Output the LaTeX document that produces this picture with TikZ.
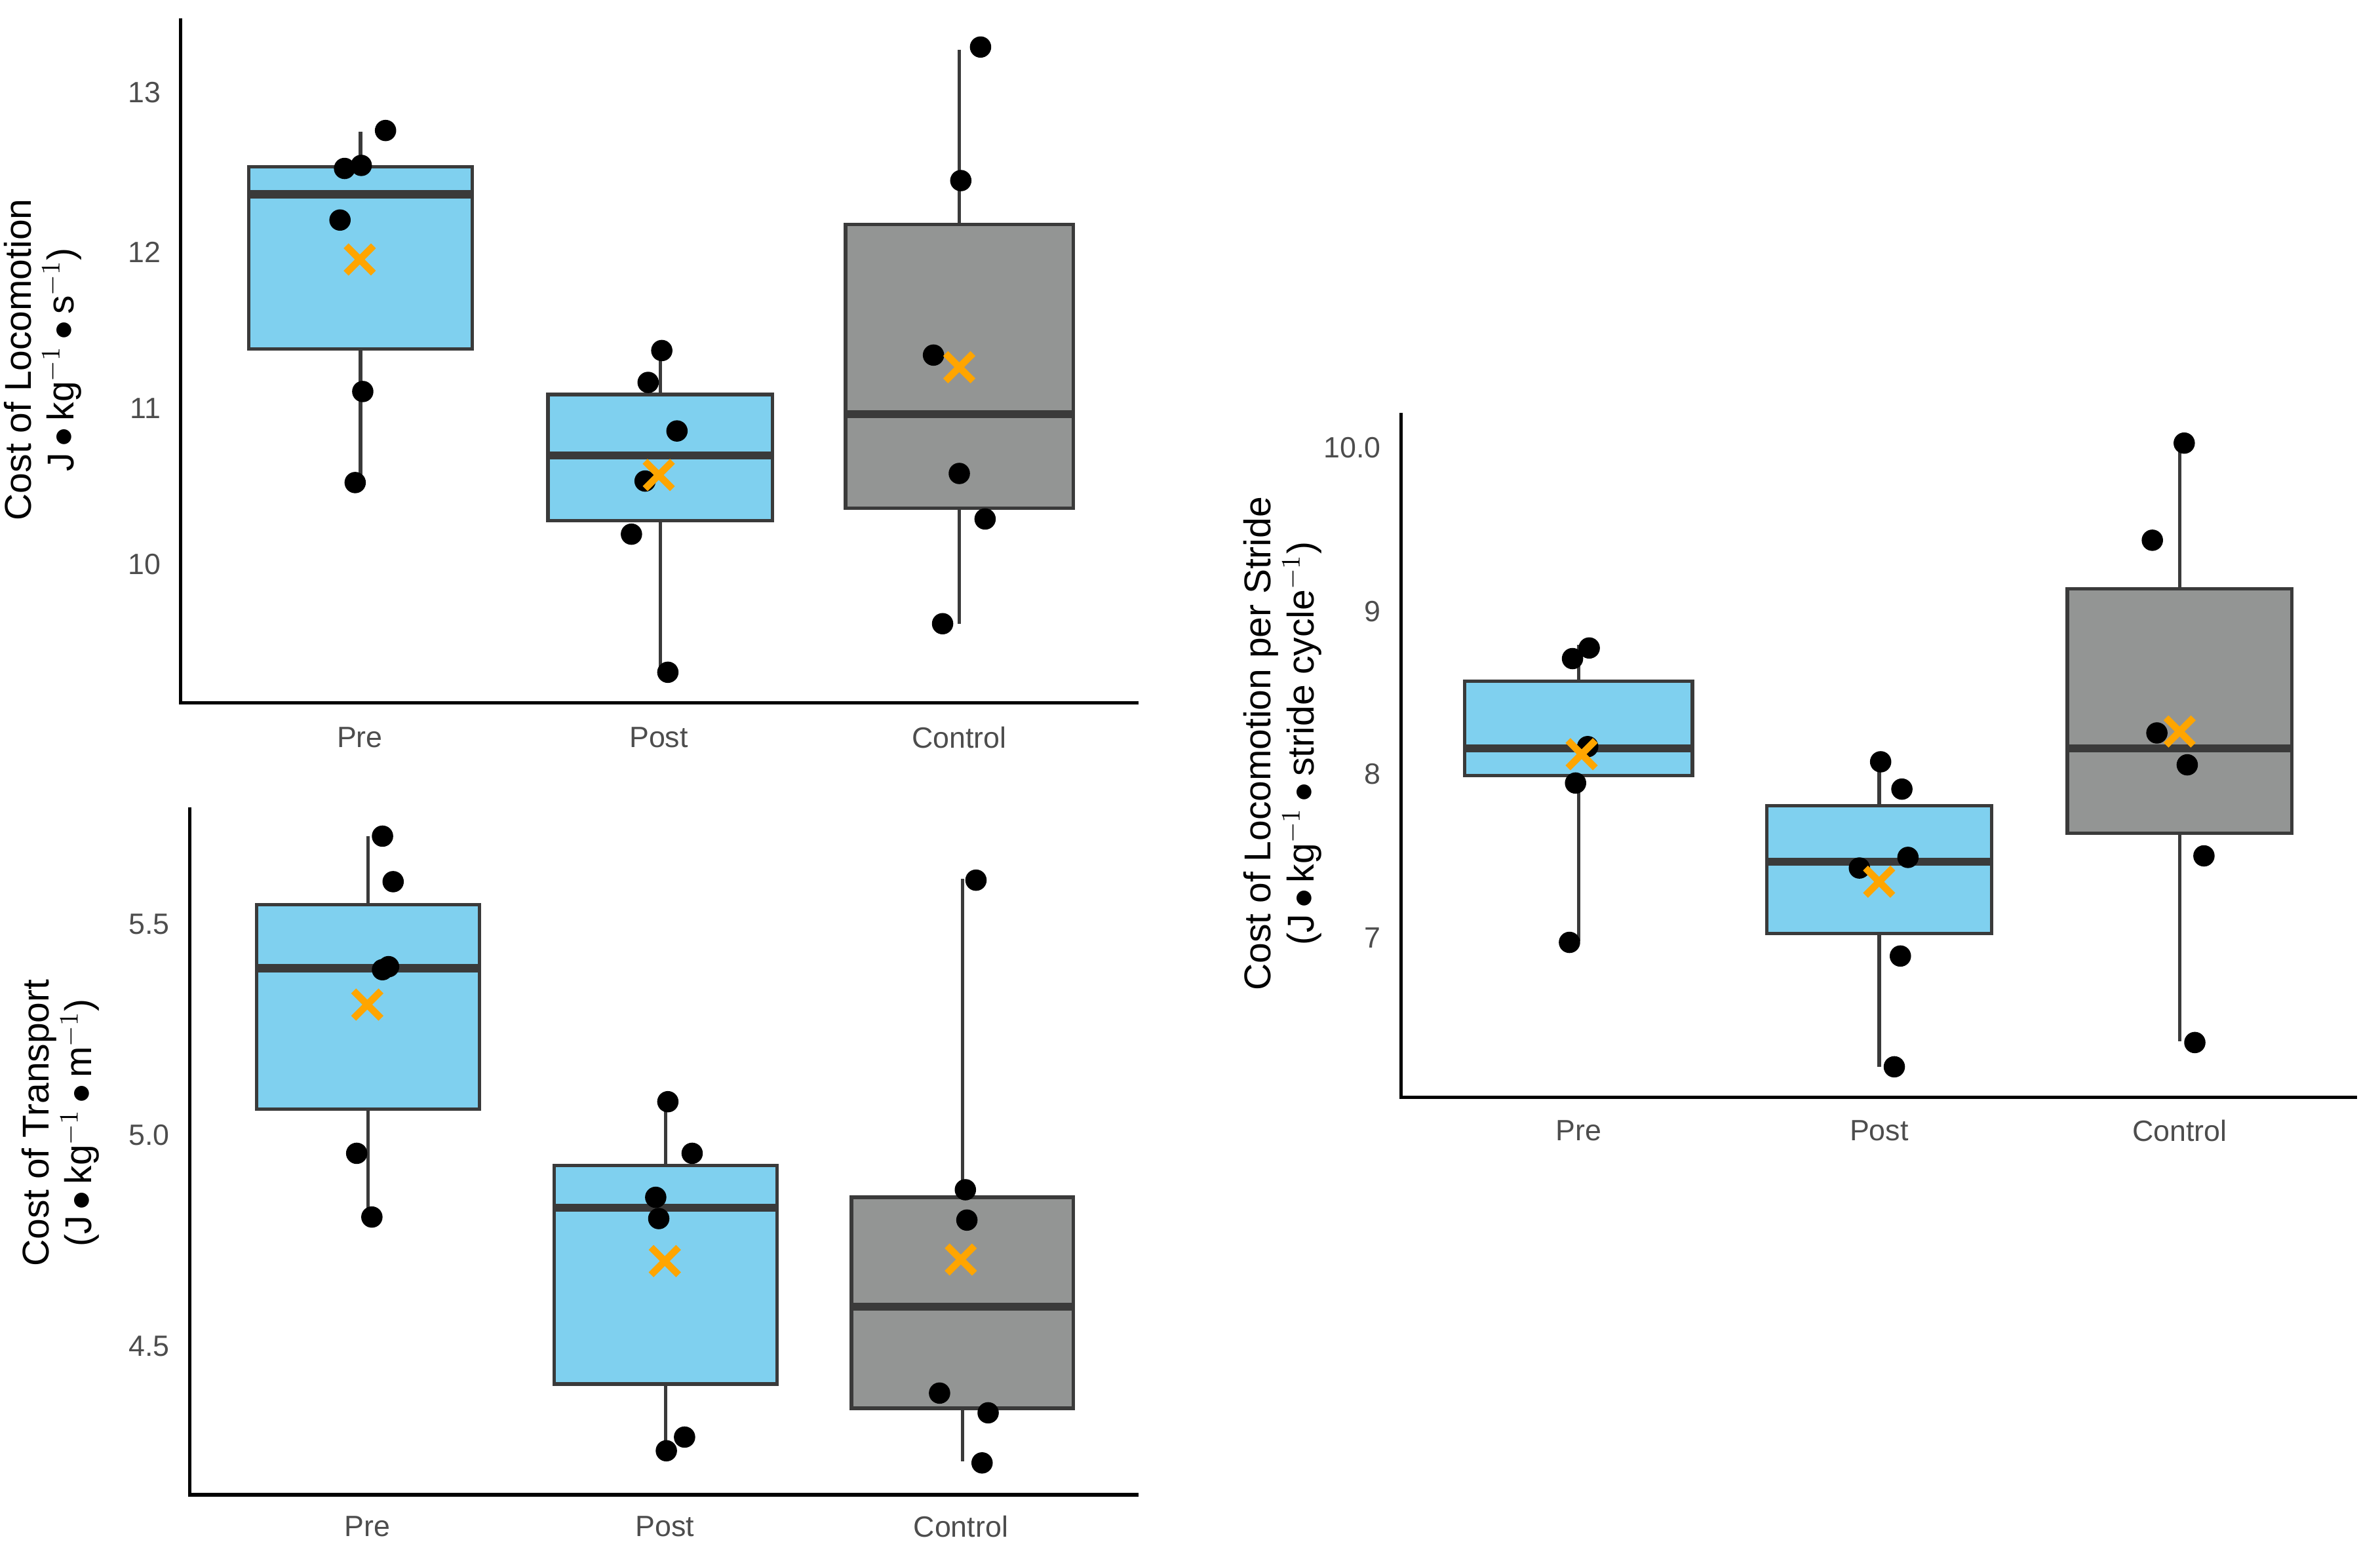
\documentclass[tikz,border=0pt]{standalone}
\usepackage{fontspec}
\setmainfont{Liberation Sans}
\definecolor{boxblue}{HTML}{7FD0EF}
\definecolor{boxgray}{HTML}{939594}
\definecolor{edgegray}{HTML}{3A3A3A}
\definecolor{meanorange}{HTML}{FFA500}
\definecolor{ticktext}{HTML}{4D4D4D}
\tikzset{
  box/.style={draw=edgegray, line width=1.3pt},
  whisker/.style={draw=edgegray, line width=1.3pt},
  median/.style={draw=edgegray, line width=3pt},
  axis/.style={draw=black, line width=1.3pt},
  pt/.style={fill=black, circle, inner sep=0pt, minimum size=8pt},
  ticklab/.style={font=\fontsize{11}{13}\selectfont, text=ticktext},
  ylab/.style={font=\fontsize{14}{16}\selectfont, rotate=90, align=center}
}
\newcommand{\bxp}[8]{%
  \draw[whisker] ({(#1+#2)/2},#6) -- ({(#1+#2)/2},#7);
  \filldraw[box, fill=#8] (#1,#3) rectangle (#2,#4);
  \draw[median] (#1,#5) -- (#2,#5);
}
\newcommand{\meanx}[2]{%
  \draw[meanorange, line width=2.6pt] (#1-9,#2-9) -- (#1+9,#2+9) (#1-9,#2+9) -- (#1+9,#2-9);
}
\begin{document}
\begin{tikzpicture}[x=0.02cm, y=-0.02cm]
\useasboundingbox (0,0) rectangle (1568,1027);

% top left panel
\draw[axis] (119,12) -- (119,463) -- (750,463);
\foreach \v/\y in {13/61,12/166,11/269,10/372}
  \node[ticklab, anchor=east] at (112,\y) {\v};
\foreach \c/\x in {Pre/237,Post/434,Control/632}
  \node[ticklab] at (\x,486) {\c};
\node[ylab] (tl) at (28,237) {Cost of Locomotion\\J\,$\bullet$\,kg$^{-1}$\,$\bullet$\,s$^{-1}$)};
\bxp{164}{311}{110}{230}{128}{87}{318}{boxblue}
\bxp{361}{509}{260}{343}{300}{230}{443}{boxblue}
\bxp{557}{707}{148}{335}{273}{33}{411}{boxgray}
\foreach \p in {(254,86),(227,111),(238,109),(224,145),(239,258),(234,318),
  (436,231),(427,252),(446,284),(425,317),(416,352),(440,443),
  (646,31),(633,119),(615,234),(632,312),(649,342),(621,411)}
  \node[pt] at \p {};
\meanx{237}{171} \meanx{434}{313} \meanx{632}{242}

% bottom left panel
\draw[axis] (125,532) -- (125,985) -- (750,985);
\foreach \v/\y in {5.5/609,5.0/748,4.5/887}
  \node[ticklab, anchor=east] at (118,\y) {\v};
\foreach \c/\x in {Pre/242,Post/438,Control/633}
  \node[ticklab] at (\x,1006) {\c};
\node[ylab] (bl) at (40,740) {Cost of Transport\\(J\,$\bullet$\,kg$^{-1}$\,$\bullet$\,m$^{-1}$)};
\bxp{169}{316}{596}{731}{638}{551}{800}{boxblue}
\bxp{365}{512}{768}{912}{796}{725}{956}{boxblue}
\bxp{561}{707}{789}{928}{861}{579}{963}{boxgray}
\foreach \p in {(252,551),(259,581),(256,637),(252,639),(235,760),(245,802),
  (440,726),(456,760),(432,789),(434,803),(451,947),(439,956),
  (643,580),(636,784),(637,804),(619,918),(651,931),(647,964)}
  \node[pt] at \p {};
\meanx{242}{662} \meanx{438}{831} \meanx{633}{830}

% right panel
\draw[axis] (923,272) -- (923,723) -- (1553,723);
\foreach \v/\y in {10.0/295,9/403,8/510,7/618}
  \node[ticklab, anchor=east] at (916,\y) {\v};
\foreach \c/\x in {Pre/1040,Post/1238,Control/1436}
  \node[ticklab] at (\x,745) {\c};
\node[ylab] (rt) at (845,490) {Cost of Locomotion per Stride\\(J\,$\bullet$\,kg$^{-1}$\,$\bullet$\,stride cycle$^{-1}$)};
\bxp{965}{1115}{449}{511}{493}{425}{620}{boxblue}
\bxp{1164}{1312}{531}{615}{568}{500}{703}{boxblue}
\bxp{1362}{1510}{388}{549}{493}{292}{686}{boxgray}
\foreach \p in {(1047,427),(1036,434),(1046,492),(1038,516),(1034,621),
  (1239,502),(1253,520),(1225,572),(1257,565),(1252,630),(1248,703),
  (1439,292),(1418,356),(1421,483),(1441,504),(1452,564),(1446,687)}
  \node[pt] at \p {};
\meanx{1042}{497} \meanx{1238}{581} \meanx{1436}{482}
\end{tikzpicture}
\end{document}
